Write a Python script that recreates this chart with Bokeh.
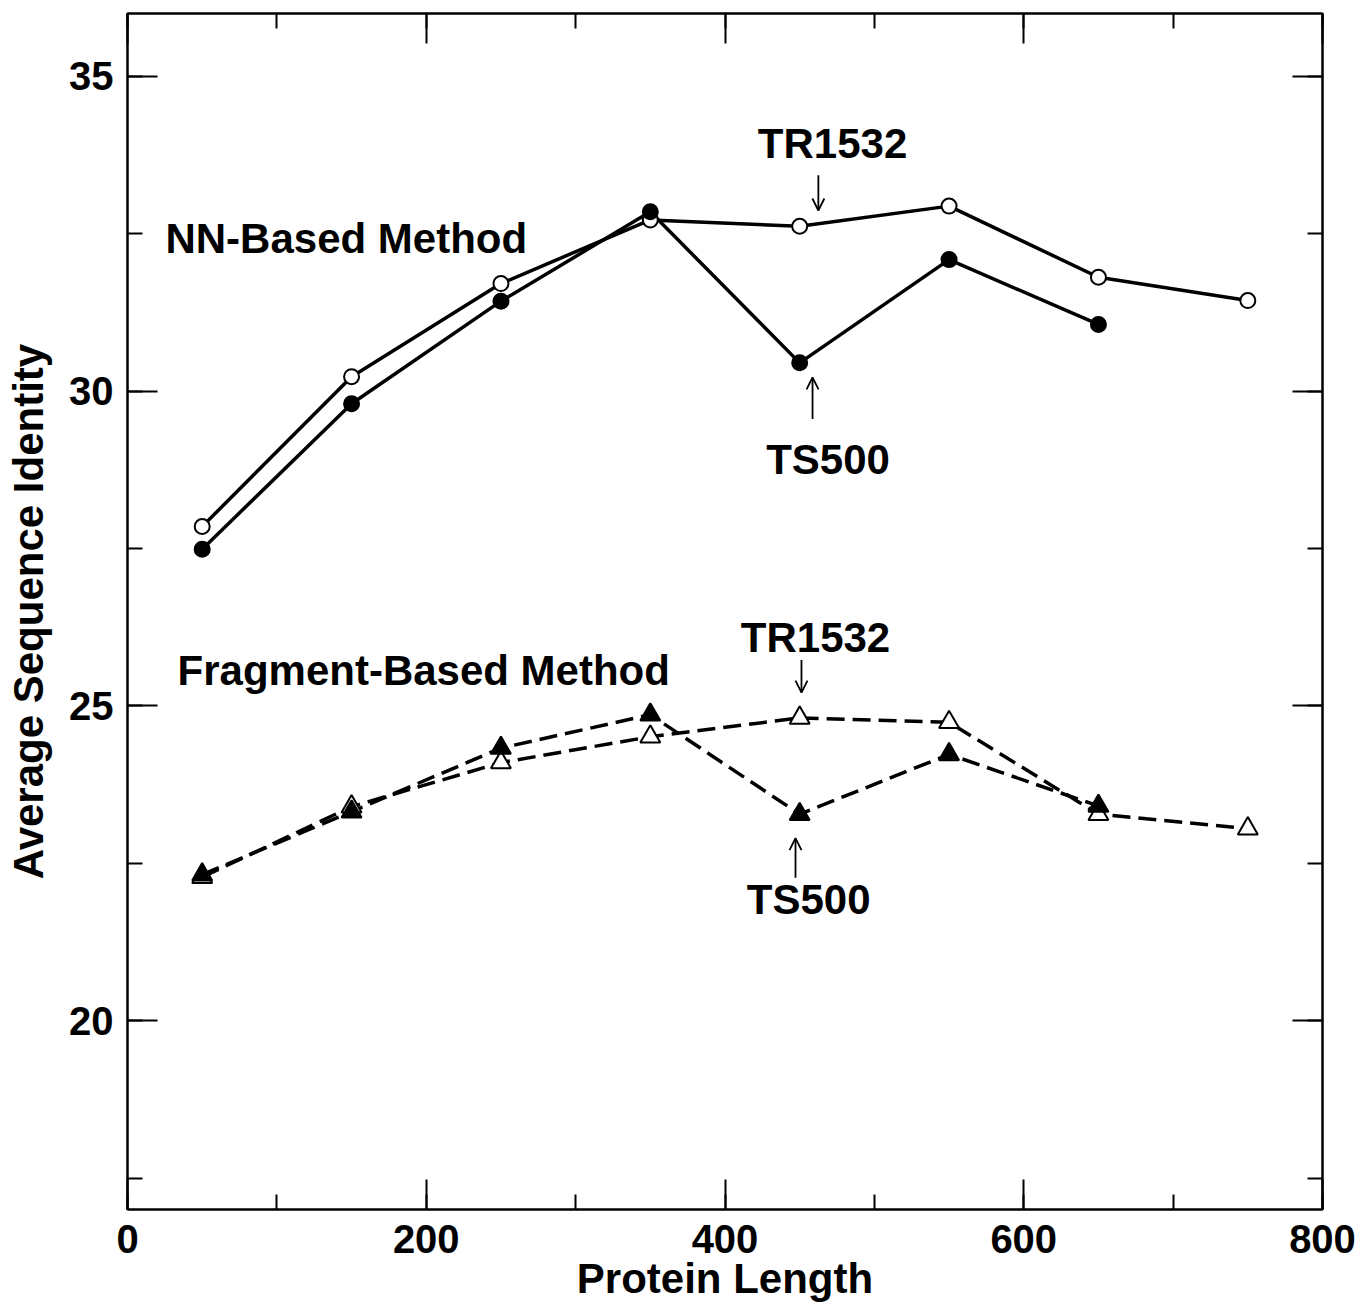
from bokeh.plotting import figure
from bokeh.models import LinearAxis, SingleIntervalTicker, Arrow, OpenHead
from bokeh.core.properties import value
from bokeh.embed import file_html
from bokeh.resources import INLINE

# ---- data ----
lengths = [50, 150, 250, 350, 450, 550, 650, 750]
nn_tr1532 = [27.85, 30.23, 31.71, 32.72, 32.62, 32.94, 31.81, 31.44]
nn_ts500 = [27.49, 29.80, 31.43, 32.85, 30.45, 32.09, 31.06]
frag_tr1532 = [22.28, 23.40, 24.10, 24.51, 24.81, 24.74, 23.28, 23.05]
frag_ts500 = [22.32, 23.32, 24.33, 24.86, 23.28, 24.23, 23.41]

# annotation texts and places
label_texts = ["NN-Based Method", "Fragment-Based Method"]
label_x = [25.4, 33.5]
label_y = [32.43, 25.56]

tag_texts = ["TR1532", "TS500", "TR1532", "TS500"]
tag_x = [472, 469, 460.6, 456]
tag_y = [33.94, 28.91, 26.08, 21.92]

# arrows: (x, y_start, y_end)
arrow_x = [462.5, 458.6, 451.2, 447.2]
arrow_y0 = [33.43, 29.56, 25.73, 22.27]
arrow_y1 = [32.87, 30.22, 25.21, 22.90]

FONT = "Liberation Sans"

p = figure(width=1361, height=1309, x_range=(0, 800), y_range=(17, 36),
           output_backend="svg", toolbar_location=None,
           min_border_left=127, min_border_right=39, min_border_top=13, min_border_bottom=100,
           background_fill_color="white", border_fill_color="white")
p.grid.visible = False
p.outline_line_color = "black"
p.outline_line_width = 2


def style_axis(ax, ticker, show_labels):
    ax.ticker = ticker
    ax.axis_line_width = 2
    ax.axis_line_color = "black"
    ax.major_tick_in = 30
    ax.major_tick_out = 0
    ax.minor_tick_in = 15
    ax.minor_tick_out = 0
    ax.major_tick_line_width = 2
    ax.minor_tick_line_width = 2
    ax.major_tick_line_color = "black"
    ax.minor_tick_line_color = "black"
    if show_labels:
        ax.major_label_text_font = FONT
        ax.major_label_text_font_style = "bold"
        ax.major_label_text_font_size = "40px"
        ax.major_label_text_color = "black"
    else:
        ax.major_label_text_font_size = "1px"
        ax.major_label_text_color = None
        ax.major_label_standoff = 0


xa = p.xaxis[0]
style_axis(xa, SingleIntervalTicker(interval=200, num_minor_ticks=2), True)
xa.major_label_standoff = 15
xa.axis_label = "Protein Length"
xa.axis_label_text_font = FONT
xa.axis_label_text_font_style = "bold"
xa.axis_label_text_font_size = "42px"
xa.axis_label_text_color = "black"
xa.axis_label_standoff = -1

ya = p.yaxis[0]
style_axis(ya, SingleIntervalTicker(interval=5, num_minor_ticks=2), True)
ya.major_label_standoff = 14
ya.axis_label = "Average Sequence Identity"
ya.axis_label_text_font = FONT
ya.axis_label_text_font_style = "bold"
ya.axis_label_text_font_size = "42px"
ya.axis_label_text_color = "black"
ya.axis_label_standoff = 14

top_ax = LinearAxis()
style_axis(top_ax, SingleIntervalTicker(interval=200, num_minor_ticks=2), False)
p.add_layout(top_ax, "above")
right_ax = LinearAxis()
style_axis(right_ax, SingleIntervalTicker(interval=5, num_minor_ticks=2), False)
p.add_layout(right_ax, "right")

# NN-based (solid)
p.line(lengths, nn_tr1532, line_color="black", line_width=3.5)
p.line(lengths[:len(nn_ts500)], nn_ts500, line_color="black", line_width=3.5)
p.scatter(lengths, nn_tr1532, marker="circle", size=15, fill_color="white",
          line_color="black", line_width=2)
p.scatter(lengths[:len(nn_ts500)], nn_ts500, marker="circle", size=15, fill_color="black",
          line_color="black", line_width=2)

# Fragment-based (dashed)
p.line(lengths, frag_tr1532, line_color="black", line_width=3.5, line_dash="18 8")
p.line(lengths[:len(frag_ts500)], frag_ts500, line_color="black", line_width=3.5, line_dash="18 8")
p.scatter(lengths, frag_tr1532, marker="triangle", size=20, fill_color="white",
          line_color="black", line_width=2)
p.scatter(lengths[:len(frag_ts500)], frag_ts500, marker="triangle", size=20, fill_color="black",
          line_color="black", line_width=2)

# labels
p.text(x=label_x, y=label_y, text=label_texts, text_font=value(FONT),
       text_font_style="bold", text_font_size="42px", text_color="black",
       text_align="left", text_baseline="alphabetic")
p.text(x=tag_x, y=tag_y, text=tag_texts, text_font=value(FONT),
       text_font_style="bold", text_font_size="42px", text_color="black",
       text_align="center", text_baseline="alphabetic")

for ax_, y0, y1 in zip(arrow_x, arrow_y0, arrow_y1):
    p.add_layout(Arrow(end=OpenHead(size=12, line_width=1.8, line_color="black"),
                       x_start=ax_, y_start=y0, x_end=ax_, y_end=y1,
                       line_width=1.8, line_color="black"))

open("out.html", "w").write(file_html(p, INLINE))
